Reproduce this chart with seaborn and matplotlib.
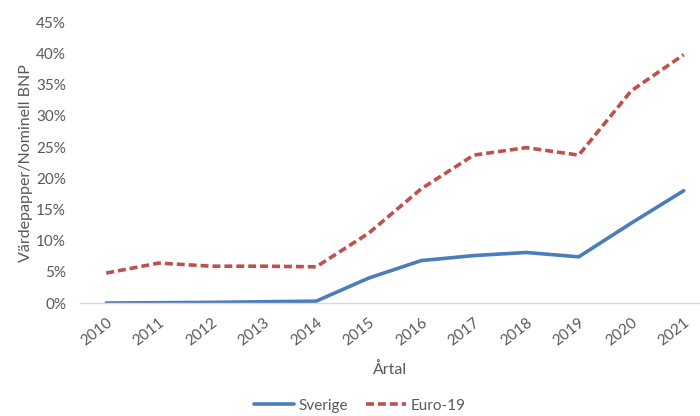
import numpy as np
import pandas as pd
import matplotlib
matplotlib.use("Agg")
import matplotlib.pyplot as plt
import seaborn as sns
from matplotlib.ticker import PercentFormatter

years = [str(y) for y in range(2010, 2022)]
sverige = [0.0, 0.05, 0.1, 0.2, 0.3, 4.0, 6.8, 7.6, 8.1, 7.4, 12.8, 18.0]
euro19 = [4.8, 6.4, 5.9, 5.9, 5.8, 11.2, 18.3, 23.7, 24.9, 23.7, 34.0, 39.8]

df = pd.DataFrame({
    "year": years * 2,
    "value": sverige + euro19,
    "serie": ["Sverige"] * len(years) + ["Euro-19"] * len(years),
})

sns.set_theme(style="white")
plt.rcParams["font.family"] = ["Lato", "DejaVu Sans"]

fig = plt.figure(figsize=(7, 4.16), dpi=100)
ax = fig.add_axes([0.1143, 0.2716, 0.8857, 0.675])

sns.lineplot(
    data=df, x="year", y="value", hue="serie", style="serie",
    palette={"Sverige": "#4a7ebb", "Euro-19": "#c0504d"},
    dashes={"Sverige": "", "Euro-19": (2.2, 1.1)},
    linewidth=2.6, ax=ax, sort=False,
)

ax.set_xlim(-0.5, 11.31)
ax.set_ylim(0, 45)
ax.set_yticks(np.arange(0, 50, 5))
ax.yaxis.set_major_formatter(PercentFormatter(decimals=0))
for s in ["top", "right", "left"]:
    ax.spines[s].set_visible(False)
ax.spines["bottom"].set_color("#d9d9d9")
ax.spines["bottom"].set_linewidth(1.0)
ax.tick_params(axis="both", colors="#595959", labelsize=11, length=0)
ax.tick_params(axis="y", pad=10)
plt.setp(ax.get_xticklabels(), rotation=38, ha="right", rotation_mode="anchor")
ax.tick_params(axis="x", pad=9)

ax.set_xlabel("Årtal", color="#595959", fontsize=11.5, labelpad=10)
ax.set_ylabel("Värdepapper/Nominell BNP", color="#595959", fontsize=11.5, labelpad=2)

ax.legend(loc="center", ncol=2, frameon=False, fontsize=11, labelcolor="#595959",
          handlelength=2.6, handletextpad=0.3, columnspacing=1.2)
ax.get_legend().set_bbox_to_anchor((0.514, 0.025), transform=fig.transFigure)

fig.savefig("out.png", dpi=100)
